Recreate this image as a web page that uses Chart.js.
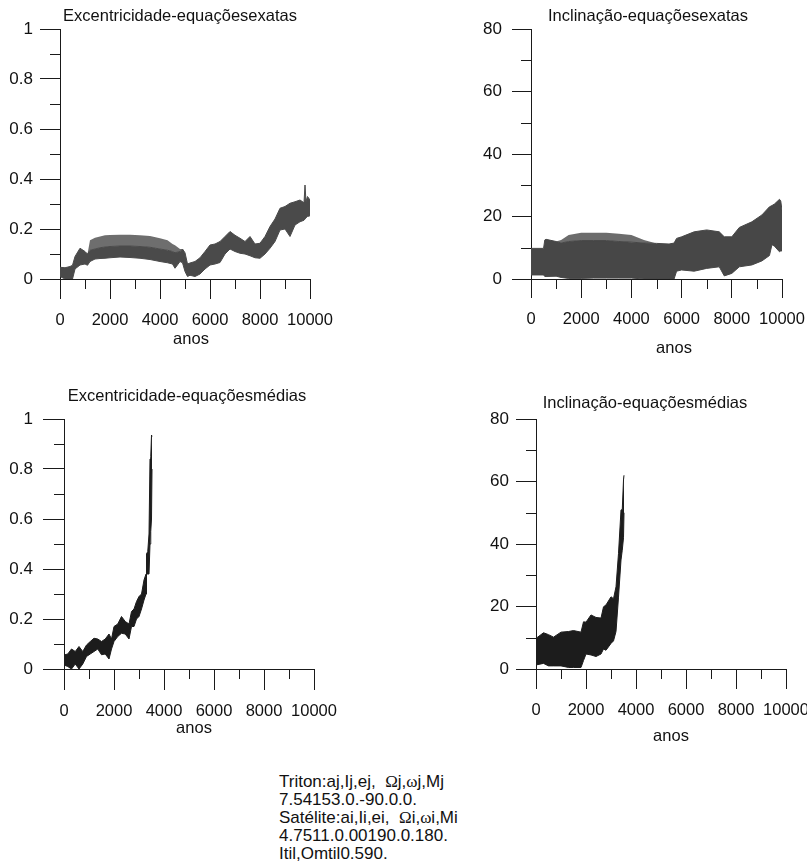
<!DOCTYPE html>
<html>
<head>
<meta charset="utf-8">
<script src="https://cdn.jsdelivr.net/npm/chart.js@4.4.0/dist/chart.umd.min.js"></script>
<style>
  html { overflow: hidden; }
  body { margin: 0; background: #fff; width: 807px; height: 865px; position: relative; overflow: hidden;
         font-family: 'Liberation Sans', Arial, sans-serif; color: #111; }
  canvas { position: absolute; }
  .rot { position: absolute; transform: translate(-50%, -50%); white-space: nowrap; font-size: 16.5px; }
  .params { position: absolute; left: 279px; top: 773px; font-size: 17px; line-height: 18px; white-space: pre; }
  .g { font-family: 'Liberation Serif', 'Times New Roman', serif; }
</style>
</head>
<body>
<canvas id="c-e-exatas" width="400" height="345" style="left:0;top:0"></canvas>
<canvas id="c-i-exatas" width="390" height="360" style="left:440px;top:0"></canvas>
<canvas id="c-e-medias" width="400" height="360" style="left:0;top:380px"></canvas>
<canvas id="c-i-medias" width="390" height="360" style="left:440px;top:380px"></canvas>

<div class="rot" style="left:180px;top:15px">Excentricidade-equaçõesexatas</div>
<div class="rot" style="left:191px;top:338px">anos</div>
<div class="rot" style="left:648px;top:15px">Inclinação-equaçõesexatas</div>
<div class="rot" style="left:674px;top:347px">anos</div>
<div class="rot" style="left:187px;top:395px">Excentricidade-equaçõesmédias</div>
<div class="rot" style="left:194px;top:727px">anos</div>
<div class="rot" style="left:645px;top:402px">Inclinação-equaçõesmédias</div>
<div class="rot" style="left:671px;top:735px">anos</div>

<div class="params">Triton:aj,Ij,ej,  <span class="g">Ω</span>j,<span class="g">ω</span>j,Mj
7.54153.0.-90.0.0.
Satélite:ai,Ii,ei,  <span class="g">Ω</span>i,<span class="g">ω</span>i,Mi
4.7511.0.00190.0.180.
Itil,Omtil0.590.</div>

<script>
// excentricidade, equações exatas: limites inferior/superior da faixa e topo da parte cheia
const anosEx = [0, 200, 400, 500, 600, 800, 1000, 1100, 1200, 1400, 1600, 1800, 2000, 2400, 2800, 3200, 3600,
  4000, 4300, 4500, 4600, 4800, 4900, 5000, 5100, 5200, 5400, 5600, 5800, 6000, 6200, 6400, 6600, 6800, 7000,
  7200, 7400, 7600, 7800, 8000, 8200, 8400, 8600, 8800, 9000, 9200, 9400, 9600, 9760, 9800, 9840, 9900, 10000];
const eExMax = [0.047, 0.045, 0.050, 0.055, 0.090, 0.123, 0.110, 0.100, 0.155, 0.165, 0.170, 0.175, 0.176, 0.177,
  0.177, 0.175, 0.172, 0.163, 0.155, 0.140, 0.135, 0.120, 0.120, 0.105, 0.060, 0.064, 0.070, 0.085, 0.110, 0.136,
  0.140, 0.150, 0.170, 0.190, 0.175, 0.163, 0.150, 0.170, 0.140, 0.143, 0.170, 0.210, 0.240, 0.283, 0.290, 0.303,
  0.309, 0.316, 0.305, 0.376, 0.310, 0.330, 0.316];
const eExNucleo = [0.047, 0.045, 0.050, 0.055, 0.090, 0.123, 0.110, 0.100, 0.115, 0.120, 0.125, 0.128, 0.130, 0.132,
  0.132, 0.130, 0.127, 0.120, 0.115, 0.110, 0.105, 0.110, 0.120, 0.105, 0.060, 0.064, 0.070, 0.085, 0.110, 0.136,
  0.140, 0.150, 0.170, 0.190, 0.175, 0.163, 0.150, 0.170, 0.140, 0.143, 0.170, 0.210, 0.240, 0.283, 0.290, 0.303,
  0.309, 0.316, 0.305, 0.376, 0.310, 0.330, 0.316];
const eExMin = [0.010, 0.000, 0.000, 0.000, 0.040, 0.056, 0.060, 0.055, 0.070, 0.080, 0.082, 0.083, 0.085, 0.088,
  0.086, 0.083, 0.078, 0.070, 0.065, 0.060, 0.043, 0.070, 0.065, 0.030, 0.010, 0.015, 0.010, 0.020, 0.040, 0.056,
  0.060, 0.066, 0.100, 0.120, 0.110, 0.103, 0.100, 0.093, 0.085, 0.083, 0.100, 0.123, 0.150, 0.196, 0.200, 0.170,
  0.216, 0.229, 0.235, 0.240, 0.245, 0.250, 0.253];

// inclinação (graus), equações exatas
const anosIEx = [0, 500, 550, 600, 1000, 1200, 1500, 2000, 2500, 3000, 3500, 4000, 4500, 5000, 5500, 5700, 5800,
  6000, 6500, 7000, 7500, 7700, 8000, 8300, 8800, 9200, 9500, 9600, 9700, 9900, 9950, 10000];
const iExMax = [9.8, 9.8, 12.5, 12.7, 12.0, 12.5, 14.1, 14.8, 14.8, 14.8, 14.5, 14.1, 12.5, 11.4, 11.2, 11.5, 13.0,
  13.5, 15.1, 15.7, 15.1, 13.5, 13.5, 16.5, 18.3, 20.5, 23.1, 23.5, 24.0, 25.5, 25.0, 22.0];
const iExNucleo = [9.8, 9.8, 12.5, 12.7, 12.0, 11.5, 12.0, 12.3, 12.3, 12.3, 12.0, 11.8, 11.5, 11.4, 11.2, 11.5, 13.0,
  13.5, 15.1, 15.7, 15.1, 13.5, 13.5, 16.5, 18.3, 20.5, 23.1, 23.5, 24.0, 25.5, 25.0, 22.0];
const iExMin = [1.3, 1.3, 0.8, 0.8, 0.9, 0.5, 0.2, 0.2, 0.3, 0.3, 0.3, 0.3, 0.0, 0.0, 0.0, 0.0, 2.5,
  2.9, 2.5, 3.4, 3.9, 1.0, 1.8, 3.9, 4.5, 5.8, 7.5, 11.0, 10.5, 8.7, 9.0, 9.0];

// excentricidade, equações médias (a integração termina perto de 3500 anos)
const anosEMed = [0, 150, 300, 450, 600, 750, 900, 1050, 1200, 1350, 1500, 1650, 1800, 1900, 2000, 2150, 2300,
  2450, 2600, 2700, 2800, 2900, 3000, 3100, 3200, 3280, 3300, 3350, 3400, 3440, 3470, 3500, 3520];
const eMedMax = [0.056, 0.060, 0.080, 0.070, 0.090, 0.070, 0.096, 0.110, 0.123, 0.120, 0.110, 0.120, 0.140, 0.120,
  0.170, 0.180, 0.210, 0.190, 0.180, 0.230, 0.240, 0.270, 0.290, 0.300, 0.356, 0.380, 0.460, 0.470, 0.540, 0.840,
  0.850, 0.936, 0.930];
const eMedMin = [0.016, 0.010, 0.000, 0.020, 0.000, 0.020, 0.050, 0.060, 0.070, 0.080, 0.057, 0.060, 0.040, 0.080,
  0.110, 0.130, 0.143, 0.140, 0.120, 0.170, 0.170, 0.200, 0.210, 0.240, 0.276, 0.300, 0.380, 0.380, 0.380, 0.500,
  0.550, 0.600, 0.800];

// inclinação, equações médias
const anosIMed = [0, 300, 500, 700, 1000, 1300, 1500, 1800, 1900, 2000, 2200, 2400, 2600, 2700, 2800, 3000, 3100,
  3200, 3300, 3400, 3450, 3500, 3520];
const iMedMax = [9.8, 11.6, 11.0, 10.2, 11.8, 12.0, 12.3, 11.8, 15.1, 15.0, 17.3, 16.5, 16.3, 19.9, 20.5, 23.1, 22.5,
  26.3, 37.0, 50.9, 51.0, 60.5, 62.0];
const iMedMin = [1.3, 1.8, 1.0, 1.0, 1.0, 0.5, 0.5, 0.5, 2.7, 4.8, 4.5, 4.0, 4.8, 6.4, 6.0, 8.2, 9.0,
  12.0, 23.0, 34.9, 38.0, 42.0, 50.0];

const eixo = '#1a1a1a';
const fonte = "'Liberation Sans', Arial, sans-serif";

const pts = (anos, vals) => anos.map((x, i) => ({ x, y: vals[i] }));

// short ticks halfway between the labelled ones
const marcasMenores = {
    id: 'marcasMenores',
    afterDraw(chart, args, o) {
        const { ctx, scales: { x, y } } = chart;
        ctx.save();
        ctx.strokeStyle = eixo;
        ctx.lineWidth = 1;
        ctx.beginPath();
        const nx = Math.round((x.max - x.min) / o.x);
        for (let i = 1; i < nx; i += 2) {
            const px = Math.round(x.getPixelForValue(x.min + i * o.x)) + 0.5;
            ctx.moveTo(px, y.bottom);
            ctx.lineTo(px, y.bottom + o.len);
        }
        const ny = Math.round((y.max - y.min) / o.y);
        for (let i = 1; i < ny; i += 2) {
            const py = Math.round(y.getPixelForValue(y.min + i * o.y)) + 0.5;
            ctx.moveTo(x.left, py);
            ctx.lineTo(x.left - o.len, py);
        }
        ctx.stroke();
        ctx.restore();
    },
};

function painel(id, p) {
    const canvas = document.getElementById(id);
    const W = canvas.width, H = canvas.height;
    const a = p.area;

    const datasets = [
        { data: pts(p.anos, p.min), borderColor: p.cor, borderWidth: 1, fill: false },
        { data: pts(p.anos, p.nucleo || p.max), borderColor: p.cor, borderWidth: 1, fill: '-1', backgroundColor: p.cor },
    ];
    if (p.nucleo) {
        datasets.push({ data: pts(p.anos, p.max), borderColor: 'rgba(0,0,0,0)', borderWidth: 1, fill: '-1', backgroundColor: p.franja });
    }

    new Chart(canvas, {
        type: 'line',
        data: { datasets },
        plugins: [marcasMenores],
        options: {
            responsive: false,
            animation: false,
            devicePixelRatio: 1,
            events: [],
            layout: { padding: { top: a.top, right: W - a.right, left: 0, bottom: 0 } },
            elements: { point: { radius: 0 }, line: { tension: 0 } },
            plugins: {
                legend: { display: false },
                tooltip: { enabled: false },
                marcasMenores: { x: 1000, y: p.yStep / 2, len: p.minorLen },
            },
            scales: {
                x: {
                    type: 'linear', min: 0, max: 10000,
                    afterFit: s => { s.height = H - a.bottom; },
                    ticks: {
                        stepSize: 2000, autoSkip: false, maxRotation: 0, padding: p.xPad,
                        color: '#111', font: { family: fonte, size: 16.5 },
                        callback: v => String(v),
                    },
                    grid: { drawOnChartArea: false, tickLength: p.tick, color: eixo },
                    border: { color: eixo },
                },
                y: {
                    type: 'linear', min: 0, max: p.yMax,
                    afterFit: s => { s.width = a.left; },
                    ticks: {
                        stepSize: p.yStep, padding: p.yPad,
                        color: '#111', font: { family: fonte, size: 17 },
                        callback: v => String(Math.round(v * 10) / 10),
                    },
                    grid: { drawOnChartArea: false, tickLength: p.tick, color: eixo },
                    border: { color: eixo },
                },
            },
        },
    });
}

painel('c-e-exatas', {
    anos: anosEx, min: eExMin, nucleo: eExNucleo, max: eExMax,
    cor: '#4a4a4a', franja: 'rgba(74,74,74,0.8)',
    yMax: 1, yStep: 0.2, area: { left: 60, top: 29, right: 310, bottom: 279 },
    tick: 20, minorLen: 10, xPad: 12, yPad: 7,
});
painel('c-i-exatas', {
    anos: anosIEx, min: iExMin, nucleo: iExNucleo, max: iExMax,
    cor: '#474747', franja: 'rgba(71,71,71,0.8)',
    yMax: 80, yStep: 20, area: { left: 91, top: 29, right: 342, bottom: 279 },
    tick: 19, minorLen: 10, xPad: 12, yPad: 10,
});
painel('c-e-medias', {
    anos: anosEMed, min: eMedMin, max: eMedMax,
    cor: '#1c1c1c',
    yMax: 1, yStep: 0.2, area: { left: 64, top: 39, right: 314, bottom: 289 },
    tick: 21, minorLen: 10, xPad: 12, yPad: 10,
});
painel('c-i-medias', {
    anos: anosIMed, min: iMedMin, max: iMedMax,
    cor: '#1c1c1c',
    yMax: 80, yStep: 20, area: { left: 96, top: 39, right: 346, bottom: 289 },
    tick: 20, minorLen: 10, xPad: 12, yPad: 7,
});
</script>
</body>
</html>
